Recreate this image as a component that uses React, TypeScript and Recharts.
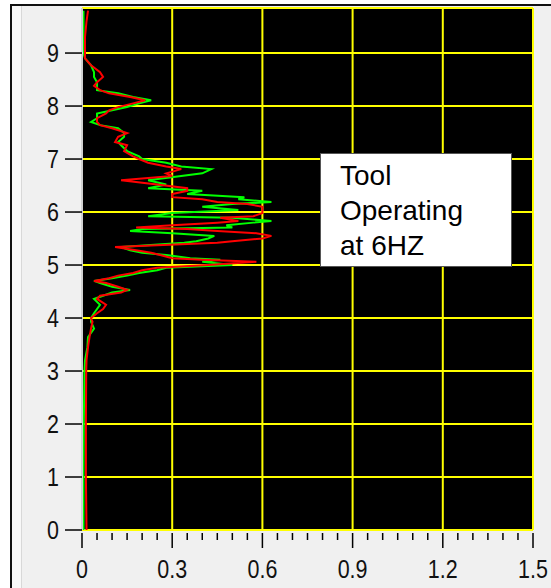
import React from 'react';
import { LineChart, Line, XAxis, YAxis, CartesianGrid, ReferenceLine } from 'recharts';

// frequency (Hz) on the vertical axis, amplitude on the horizontal one
const freqs = [
  0, 1, 2, 3, 3.2, 3.45, 3.64, 3.8, 3.93, 4, 4.09, 4.17, 4.25, 4.36, 4.42, 4.48, 4.53, 4.59, 4.66, 4.7,
  4.75, 4.8, 4.85, 4.9, 4.95, 5, 5.06, 5.1, 5.13, 5.19, 5.23, 5.28, 5.34, 5.42, 5.45, 5.5, 5.55, 5.6, 5.64, 5.68,
  5.71, 5.75, 5.8, 5.83, 5.89, 5.92, 5.98, 6.04, 6.1, 6.15, 6.19, 6.24, 6.28, 6.34, 6.4, 6.45, 6.52, 6.6, 6.68, 6.73,
  6.81, 6.86, 6.93, 7, 7.05, 7.15, 7.26, 7.32, 7.42, 7.49, 7.58, 7.64, 7.7, 7.77, 7.86, 7.92, 7.98, 8.05, 8.11, 8.17,
  8.24, 8.3, 8.38, 8.45, 8.55, 8.64, 8.77, 8.9, 9, 9.3, 9.6, 9.8,
];

const redAmp = [
  0.015, 0.013, 0.013, 0.014, 0.015, 0.02, 0.025, 0.03, 0.035, 0.03, 0.05, 0.07, 0.08, 0.05, 0.06, 0.13, 0.15, 0.12, 0.08, 0.04,
  0.09, 0.12, 0.17, 0.2, 0.25, 0.42, 0.58, 0.4, 0.3, 0.26, 0.23, 0.18, 0.11, 0.45, 0.5, 0.6, 0.63, 0.58, 0.45, 0.35,
  0.18, 0.3, 0.45, 0.52, 0.46, 0.57, 0.6, 0.6, 0.6, 0.55, 0.45, 0.4, 0.3, 0.3, 0.35, 0.35, 0.25, 0.13, 0.3, 0.28,
  0.33, 0.28, 0.22, 0.19, 0.17, 0.14, 0.15, 0.11, 0.12, 0.15, 0.1, 0.06, 0.05, 0.05, 0.08, 0.09, 0.12, 0.17, 0.21, 0.16,
  0.09, 0.06, 0.04, 0.05, 0.07, 0.06, 0.03, 0.01, 0.01, 0.01, 0.015, 0.02,
];

const greenAmp = [
  0.005, 0.005, 0.006, 0.008, 0.01, 0.018, 0.02, 0.04, 0.03, 0.03, 0.04, 0.05, 0.06, 0.04, 0.07, 0.1, 0.16, 0.1, 0.06, 0.04,
  0.1, 0.15, 0.19, 0.25, 0.28, 0.5, 0.4, 0.46, 0.36, 0.28, 0.2, 0.16, 0.13, 0.34, 0.38, 0.42, 0.44, 0.3, 0.16, 0.2,
  0.5, 0.48, 0.57, 0.63, 0.5, 0.22, 0.3, 0.52, 0.4, 0.5, 0.63, 0.52, 0.54, 0.35, 0.4, 0.22, 0.28, 0.22, 0.33, 0.4,
  0.43, 0.33, 0.28, 0.2, 0.19, 0.15, 0.13, 0.12, 0.14, 0.14, 0.12, 0.06, 0.03, 0.05, 0.05, 0.1, 0.15, 0.19, 0.23, 0.17,
  0.12, 0.05, 0.05, 0.05, 0.04, 0.04, 0.03, 0.01, 0.005, 0.005, 0.005, 0.005,
];

const xTicks = [
  0, 0.05, 0.1, 0.15, 0.2, 0.25, 0.3, 0.35, 0.4, 0.45, 0.5, 0.55, 0.6, 0.65, 0.7, 0.75,
  0.8, 0.85, 0.9, 0.95, 1, 1.05, 1.1, 1.15, 1.2, 1.25, 1.3, 1.35, 1.4, 1.45, 1.5,
];
const xGrid = [0, 0.3, 0.6, 0.9, 1.2, 1.5];
const yTicks = [0, 1, 2, 3, 4, 5, 6, 7, 8, 9];

const data = freqs.map((f, i) => ({ f, r: redAmp[i], g: greenAmp[i] }));

const axisFont = '"Liberation Sans", Arial, sans-serif';

const XTick = (props: any) => {
  const { x, y, payload } = props;
  const v = payload.value as number;
  const major = xGrid.some((m) => Math.abs(m - v) < 1e-6);
  return (
    <g>
      <line x1={x} x2={x} y1={y + 3} y2={y + (major ? 18 : 10)} stroke="#000" strokeWidth={1.5} />
      {major && (
        <text
          x={0}
          y={0}
          transform={`translate(${x},${y + 48}) scale(0.86,1)`}
          textAnchor="middle"
          fontSize={25}
          fill="#111"
          fontFamily={axisFont}
        >
          {v === 0 ? '0' : v.toFixed(1)}
        </text>
      )}
    </g>
  );
};

const YTick = (props: any) => {
  const { x, y, payload } = props;
  return (
    <text
      x={0}
      y={0}
      transform={`translate(${x},${y + 9}) scale(0.86,1)`}
      textAnchor="end"
      fontSize={25}
      fill="#111"
      fontFamily={axisFont}
    >
      {payload.value}
    </text>
  );
};

export default function App() {
  return (
    <div style={{ position: 'absolute', left: 0, top: 0, width: 551, height: 588, background: '#fff', overflow: 'hidden' }}>
      <div style={{ position: 'absolute', left: 10, top: 4, right: 0, bottom: 0, background: '#f0f0f0', borderLeft: '2px solid #111', borderTop: '2px solid #111' }} />
      <div style={{ position: 'absolute', left: 12, top: 6, width: 9, bottom: 0, background: '#f8f8f8', borderRight: '1px solid #d8d8d8' }} />
      <div style={{ position: 'absolute', left: 0, top: 0 }}>
        <LineChart width={551} height={588} data={data} layout="vertical" margin={{ top: 8, right: 18, left: 0, bottom: 0 }}>
          <CartesianGrid fill="#000" fillOpacity={1} stroke="#ffff00" strokeWidth={2} vertical={false} />
          <XAxis
            type="number"
            domain={[0, 1.5]}
            ticks={xTicks}
            interval={0}
            height={58}
            axisLine={false}
            tickLine={false}
            tickSize={0}
            tickMargin={0}
            tick={<XTick />}
          />
          <YAxis
            type="number"
            dataKey="f"
            domain={[0, 9.85]}
            ticks={yTicks}
            interval={0}
            reversed
            width={82}
            axisLine={{ stroke: '#d0d0d0', strokeWidth: 2 }}
            tickLine={{ stroke: '#000', strokeWidth: 1.5 }}
            tickSize={17}
            tickMargin={6}
            tick={<YTick />}
          />
          {xGrid.map((v) => (
            <ReferenceLine key={v} x={v} stroke="#ffff00" strokeWidth={2} />
          ))}
          <ReferenceLine y={0} stroke="#ffff00" strokeWidth={2} />
          <Line dataKey="g" stroke="#00ff00" strokeWidth={2} dot={false} isAnimationActive={false} />
          <Line dataKey="r" stroke="#ff0000" strokeWidth={2} dot={false} isAnimationActive={false} />
        </LineChart>
      </div>
      <div
        style={{
          position: 'absolute',
          left: 320,
          top: 153,
          width: 192,
          height: 114,
          background: '#fff',
          border: '1px solid #555',
          fontFamily: '"Liberation Sans", Arial, sans-serif',
          fontSize: 28,
          lineHeight: '35px',
          color: '#000',
          padding: '4px 0 0 19px',
          boxSizing: 'border-box',
        }}
      >
        Tool
        <br />
        Operating
        <br />
        at 6HZ
      </div>
    </div>
  );
}
